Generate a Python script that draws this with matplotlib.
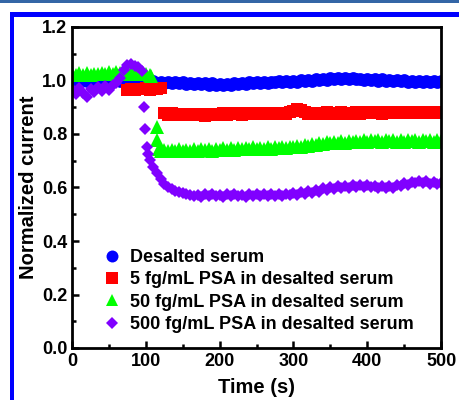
import numpy as np
import matplotlib
matplotlib.use('Agg')
import matplotlib.pyplot as plt
from matplotlib.lines import Line2D
from matplotlib.patches import Rectangle
from matplotlib.ticker import MultipleLocator

# ---- data (time in s, normalized current) ----
grid = np.arange(0, 501, 5)

blue_v = [1.000, 1.003, 0.998, 1.002, 0.999, 1.001, 0.998, 1.002, 1.000, 0.999,
          1.001, 0.998, 1.002, 1.000, 0.999, 1.001, 0.998, 1.000, 1.002, 0.999,
          0.996, 0.993, 0.997, 0.991, 0.995, 0.990, 0.994, 0.989, 0.993, 0.990,
          0.994, 0.988, 0.992, 0.987, 0.991, 0.986, 0.990, 0.985, 0.989, 0.984,
          0.988, 0.983, 0.987, 0.985, 0.989, 0.986, 0.991, 0.988, 0.993, 0.989,
          0.994, 0.990, 0.995, 0.992, 0.996, 0.993, 0.997, 0.994, 0.998, 0.995,
          0.999, 0.996, 1.001, 0.998, 1.003, 0.999, 1.005, 1.001, 1.007, 1.003,
          1.008, 1.004, 1.009, 1.004, 1.008, 1.005, 1.009, 1.004, 1.007, 1.003,
          1.006, 1.002, 1.005, 1.000, 1.004, 0.999, 1.003, 0.998, 1.002, 0.997,
          1.001, 0.996, 1.000, 0.995, 0.999, 0.996, 1.000, 0.995, 0.999, 0.996,
          0.998]

# red trace is only visible from 75 s (earlier part hidden under the others)
red_v = [0.964, 0.968, 0.966, 0.970, 0.967, 0.971, 0.966, 0.970, 0.967, 0.971,
         0.878, 0.872, 0.877, 0.871, 0.876, 0.870, 0.875, 0.871, 0.876, 0.870,
         0.875, 0.869, 0.874, 0.870, 0.876, 0.871,
         0.877, 0.872, 0.878, 0.873, 0.877, 0.872, 0.878, 0.873, 0.879, 0.874,
         0.878, 0.873, 0.879, 0.874, 0.878, 0.874, 0.880, 0.875, 0.882, 0.886,
         0.893, 0.888, 0.881, 0.875, 0.880, 0.874, 0.879, 0.875, 0.881, 0.876,
         0.880, 0.875, 0.881, 0.876, 0.880, 0.876, 0.882, 0.876, 0.881, 0.877,
         0.882, 0.877, 0.881, 0.876, 0.882, 0.877, 0.883, 0.877, 0.882, 0.878,
         0.883, 0.877, 0.882, 0.878, 0.884, 0.878, 0.883, 0.879, 0.884, 0.880]

green_pre_v = [1.025, 1.020, 1.027, 1.022, 1.028, 1.021, 1.026, 1.023, 1.029, 1.024,
               1.030, 1.025, 1.031, 1.027, 1.032, 1.026, 1.030, 1.025, 1.028, 1.024,
               1.026, 1.022]
green_drop_t = [107, 114.7, 115.6, 118]
green_drop_v = [1.015, 0.827, 0.778, 0.745]
green_post_v = [0.738, 0.742, 0.736, 0.741, 0.737, 0.743, 0.736, 0.742, 0.738, 0.744,
                0.737, 0.743, 0.739, 0.745, 0.738, 0.744,
                0.740, 0.746, 0.741, 0.747, 0.742, 0.748, 0.743, 0.749, 0.744, 0.750,
                0.745, 0.749, 0.744, 0.750, 0.745, 0.751, 0.746, 0.752, 0.747, 0.752,
                0.750, 0.755, 0.753, 0.759, 0.757, 0.763, 0.760, 0.766, 0.763, 0.769,
                0.765, 0.771, 0.767, 0.773, 0.768, 0.774, 0.769, 0.775, 0.770, 0.776,
                0.771, 0.777, 0.772, 0.776, 0.771, 0.777, 0.772, 0.776, 0.770, 0.776,
                0.771, 0.777, 0.772, 0.776, 0.771, 0.777, 0.772, 0.776, 0.771, 0.776,
                0.772]

violet_pre_v = [0.970, 0.950, 0.972, 0.952, 0.938, 0.968, 0.956, 0.975, 0.960, 0.978,
                0.966, 0.982, 0.992, 1.010, 1.040, 1.058, 1.062, 1.056, 1.050, 1.035]
violet_drop_t = [97.6, 98.9, 101, 103, 106, 110, 115, 120, 125, 130, 135, 140,
                 145, 150, 155, 160, 165]
violet_drop_v = [0.902, 0.817, 0.752, 0.725, 0.703, 0.678, 0.654, 0.632, 0.614,
                 0.603, 0.594, 0.587, 0.582, 0.578, 0.575, 0.572, 0.570]
violet_post_v = [0.572, 0.566, 0.574, 0.568, 0.575, 0.567, 0.573, 0.565, 0.574, 0.568,
                 0.576, 0.567, 0.573, 0.566, 0.575, 0.569, 0.576, 0.568, 0.574, 0.567,
                 0.575, 0.570, 0.577, 0.569, 0.576, 0.571,
                 0.578, 0.572, 0.582, 0.576, 0.587, 0.580, 0.592, 0.585, 0.597, 0.590,
                 0.601, 0.594, 0.604, 0.597, 0.606, 0.599, 0.608, 0.601, 0.609, 0.602,
                 0.608, 0.601, 0.606, 0.598, 0.604, 0.597, 0.606, 0.600, 0.610, 0.605,
                 0.616, 0.610, 0.622, 0.615, 0.625, 0.617, 0.623, 0.614, 0.620, 0.613,
                 0.618]

labels = ['Desalted serum',
          '5 fg/mL PSA in desalted serum',
          '50 fg/mL PSA in desalted serum',
          '500 fg/mL PSA in desalted serum']

# assemble series
blue_t = grid
red_t = grid[grid >= 75]
green_t = np.concatenate([grid[grid <= 105], green_drop_t, grid[grid >= 120]])
green_v = np.concatenate([green_pre_v, green_drop_v, green_post_v])
violet_t = np.concatenate([grid[grid <= 95], violet_drop_t, grid[grid >= 170]])
violet_v = np.concatenate([violet_pre_v, violet_drop_v, violet_post_v])

plt.rcParams['font.family'] = 'Liberation Sans'
plt.rcParams['font.weight'] = 'bold'

fig = plt.figure(figsize=(4.59, 4.00), dpi=100)
ax = fig.add_axes([0.157, 0.13, 0.804, 0.8025])

styles = [('#0000ff', 'o', 9.2), ('#ff0000', 's', 8.8),
          ('#00ff00', '^', 9.6), ('#8000ff', 'D', 6.6)]
legend_ms = [8.6, 8.2, 9.0, 6.2]
series = [(blue_t, blue_v), (red_t, red_v), (green_t, green_v), (violet_t, violet_v)]

for (t, v), (c, m, ms) in zip(series, styles):
    ax.plot(t, v, linestyle='none', marker=m, markersize=ms, color=c,
            markeredgewidth=0)

handles = [Line2D([], [], linestyle='none', marker=m, markersize=lms,
                  color=c, markeredgewidth=0)
           for (c, m, ms), lms in zip(styles, legend_ms)]
ax.legend(handles, labels, loc='lower left', bbox_to_anchor=(0.084, 0.046),
          frameon=False, fontsize=13, handlelength=1.0, handletextpad=0.5,
          labelspacing=0.3, borderpad=0, borderaxespad=0)

ax.set_xlim(0, 500)
ax.set_ylim(0, 1.2)
ax.xaxis.set_major_locator(MultipleLocator(100))
ax.xaxis.set_minor_locator(MultipleLocator(50))
ax.yaxis.set_major_locator(MultipleLocator(0.2))
ax.yaxis.set_minor_locator(MultipleLocator(0.1))
ax.yaxis.set_major_formatter(matplotlib.ticker.FormatStrFormatter('%.1f'))
ax.tick_params(which='both', direction='in', labelsize=13, width=1.8)
ax.tick_params(which='major', length=5, pad=3.5)
ax.tick_params(which='minor', length=3)
for s in ax.spines.values():
    s.set_linewidth(2.0)

ax.set_xlabel('Time (s)', fontsize=14.5, fontweight='bold', labelpad=6)
ax.set_ylabel('Normalized current', fontsize=14.5, fontweight='bold', labelpad=3)

# journal-style frame around the figure
fig.add_artist(Rectangle((0, 1 - 2.5 / 400), 1, 2.5 / 400, transform=fig.transFigure,
                         color='#3466a6', lw=0))
fig.add_artist(Rectangle((9.5 / 459, 0), 4 / 459, 1 - 12 / 400, transform=fig.transFigure,
                         color='#0000ff', lw=0))
fig.add_artist(Rectangle((9.5 / 459, 1 - 16.5 / 400), 1, 4.5 / 400, transform=fig.transFigure,
                         color='#0000ff', lw=0))

fig.savefig('out.png', dpi=100)
